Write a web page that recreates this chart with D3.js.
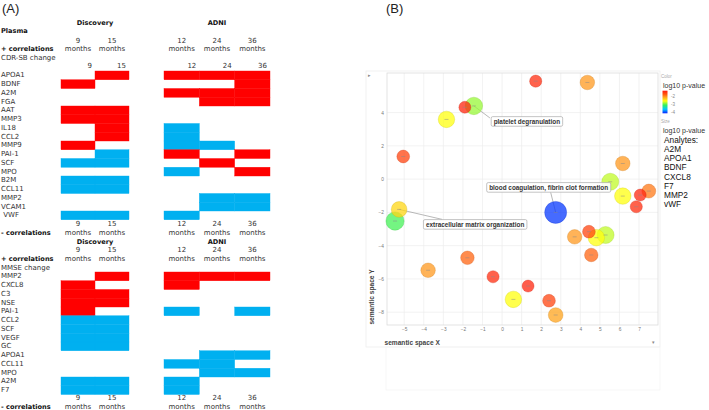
<!DOCTYPE html>
<html>
<head>
<meta charset="utf-8">
<script src="https://cdn.jsdelivr.net/npm/d3@7"></script>
<style>
  body { margin: 0; background: #fff; }
  svg { display: block; }
  .lab { font-family: "DejaVu Sans", Verdana, sans-serif; font-size: 7px; fill: #333; }
  .bold { font-weight: bold; fill: #111; font-size: 6.6px; }
  .sans { font-family: "Liberation Sans", Arial, sans-serif; }
</style>
</head>
<body>
<script>
// ---- panel A data ----
const discoveryMonths = ['9', '15'];
const adniMonths = ['12', '24', '36'];

// CDR-SB change: 1 = + correlation (red), -1 = - correlation (blue), 0 = none
// order: Discovery 9, 15 | ADNI 12, 24, 36
const cdrAnalytes = ['APOA1', 'BDNF', 'A2M', 'FGA', 'AAT', 'MMP3', 'IL18', 'CCL2', 'MMP9', 'PAI-1', 'SCF', 'MPO', 'B2M', 'CCL11', 'MMP2', 'VCAM1', ' VWF'];
const cdrValues = [
    [0, 1, 1, 1, 1],
    [1, 0, 0, 0, 1],
    [0, 0, 1, 1, 1],
    [0, 0, 0, 1, 1],
    [1, 1, 0, 0, 0],
    [1, 1, 0, 0, 0],
    [0, 1, -1, 0, 0],
    [0, 1, -1, 0, 0],
    [1, 0, -1, -1, 0],
    [0, -1, 1, 0, 1],
    [-1, -1, 0, 1, 0],
    [0, 0, -1, 0, 1],
    [-1, -1, 0, 0, 0],
    [-1, -1, 0, 0, 0],
    [0, 0, 0, -1, -1],
    [0, 0, 0, -1, -1],
    [-1, -1, -1, 0, 0]
];

// MMSE change
const mmseAnalytes = ['MMP2', 'CXCL8', 'C3', 'NSE', 'PAI-1', 'CCL2', 'SCF', 'VEGF', 'GC', 'APOA1', 'CCL11', 'MPO', 'A2M', 'F7'];
const mmseValues = [
    [0, 1, 1, 1, 1],
    [1, 0, 1, 0, 0],
    [1, 1, 0, 0, 0],
    [1, 1, 0, 0, 0],
    [1, 0, -1, 0, -1],
    [-1, -1, 0, 0, 0],
    [-1, -1, 0, 0, 0],
    [-1, -1, 0, 0, 0],
    [-1, -1, 0, 0, 0],
    [0, 0, 0, -1, -1],
    [0, 0, -1, -1, 0],
    [0, 0, 0, -1, -1],
    [-1, -1, -1, 0, 0],
    [-1, -1, -1, 0, 0]
];

// ---- panel B data (REVIGO semantic space) ----
const termX = [-5.05, -2.84, -1.90, -1.44, 1.72, 4.36, 6.17, 5.53, 6.17, 7.06, 7.50, 6.86, 2.74, 3.71, 4.44, 5.29, 4.82, 4.56, 1.33, 2.40, 2.74, -5.26, -5.47, -3.78, -1.77, -0.46, 0.58];
const termY = [1.36, 3.59, 4.32, 4.40, 5.89, 5.81, 0.94, -0.16, -1.02, -0.96, -0.72, -1.66, -2.00, -3.47, -3.16, -3.36, -3.52, -4.56, -6.43, -7.31, -8.17, -1.82, -2.52, -5.48, -4.73, -5.87, -7.23];
const termLogP = [-1.65, -2.6, -1.45, -2.85, -1.5, -2.1, -2.1, -2.75, -2.6, -1.45, -1.95, -1.5, -4.0, -2.1, -1.65, -2.75, -2.6, -1.85, -1.45, -1.65, -2.15, -2.4, -3.05, -2.1, -1.85, -1.5, -2.6];
const labelText = ['platelet degranulation', 'blood coagulation, fibrin clot formation', 'extracellular matrix organization'];
const labelTerm = [3, 12, 21];
const analytes = ['A2M', 'APOA1', 'BDNF', 'CXCL8', 'F7', 'MMP2', 'vWF'];
const xTicks = d3.range(-5, 8);
const yTicks = [-8, -6, -4, -2, 0, 2, 4];
const colorTicks = [-2, -3, -4];

const svg = d3.select('body').append('svg').attr('width', 709).attr('height', 410);

//常量
const RED = '#ff0000', BLUE = '#00b0f0';
const rowH = 8.75;

// ================= panel A =================
const A = svg.append('g');
A.append('text').attr('class', 'sans').attr('x', 2).attr('y', 13).attr('font-size', 13).attr('fill', '#222').text('(A)');

const xDisc = d3.scaleBand().domain(discoveryMonths).range([61, 129]);
const xAdni = d3.scaleBand().domain(adniMonths).range([164, 270]);
const cols = discoveryMonths.map(m => ({ m, x: xDisc(m), w: xDisc.bandwidth() }))
    .concat(adniMonths.map(m => ({ m, x: xAdni(m), w: xAdni.bandwidth() })));

function txt(g, x, y, s, cls, anchor) {
    return g.append('text').attr('class', 'lab ' + (cls || ''))
        .attr('x', x).attr('y', y).attr('dominant-baseline', 'central')
        .attr('text-anchor', anchor || 'start').style('white-space', 'pre').text(s);
}

function colHeader(g, yNum, yMonths) {
    cols.forEach(c => {
        txt(g, c.x + c.w / 2, yNum, c.m, '', 'middle').attr('fill', '#444');
        txt(g, c.x + c.w / 2, yMonths, 'months', '', 'middle').attr('fill', '#444');
    });
}

function section(g, rows, values, top) {
    const y = d3.scaleBand().domain(d3.range(rows.length)).range([top, top + rows.length * rowH]);
    rows.forEach((r, i) => txt(g, 1, y(i) + rowH / 2, r));
    const cells = [];
    values.forEach((row, i) => row.forEach((v, j) => { if (v !== 0) cells.push({ i, j, v }); }));
    g.selectAll(null).data(cells).join('rect')
        .attr('x', d => cols[d.j].x).attr('y', d => y(d.i))
        .attr('width', d => cols[d.j].w).attr('height', rowH)
        .attr('fill', d => d.v > 0 ? RED : BLUE)
        .attr('stroke', d => d.v > 0 ? RED : BLUE).attr('stroke-width', 0.4);
    return top + rows.length * rowH;
}

// CDR-SB block
let top1 = 71;
txt(A, xDisc.range()[0] + 34, 23, 'Discovery', 'bold', 'middle');
txt(A, 217, 23, 'ADNI', 'bold', 'middle');
txt(A, 1, 31, 'Plasma', 'bold');
colHeader(A, 41, 49);
txt(A, 1, 49, '+ correlations', 'bold');
txt(A, 1, 58, 'CDR-SB change');
cols.forEach(c => txt(A, c.x + c.w - 3, 66, c.m, '', 'end').attr('fill', '#444'));
let end1 = section(A, cdrAnalytes, cdrValues, top1);
colHeader(A, end1 + 3.8, end1 + 12.8);
txt(A, 1, end1 + 12.8, '- correlations', 'bold');

// MMSE block
let top2 = 272;
txt(A, 95, 241.5, 'Discovery', 'bold', 'middle');
txt(A, 217, 241.5, 'ADNI', 'bold', 'middle');
colHeader(A, 250, 259);
txt(A, 1, 259, '+ correlations', 'bold');
txt(A, 1, 268, 'MMSE change');
let end2 = section(A, mmseAnalytes, mmseValues, top2);
colHeader(A, end2 + 3.6, end2 + 12.6);
txt(A, 1, end2 + 12.6, '- correlations', 'bold');

// ================= panel B =================
const B = svg.append('g').attr('class', 'sans');
B.append('text').attr('x', 386).attr('y', 13).attr('font-size', 13).attr('fill', '#222').text('(B)');

const px0 = 387, px1 = 658, py0 = 73, py1 = 325;
const x = d3.scaleLinear().domain([-5.88, 7.97]).range([px0, px1]);
const y = d3.scaleLinear().domain([-8.77, 6.38]).range([py1, py0]);

// faint frames
B.append('rect').attr('x', 366).attr('y', 71).attr('width', 294).attr('height', 276)
    .attr('fill', 'none').attr('stroke', '#eeeeee').attr('stroke-width', 0.8);
B.append('rect').attr('x', 386).attr('y', 347).attr('width', 274).attr('height', 43)
    .attr('fill', 'none').attr('stroke', '#f4f4f4').attr('stroke-width', 0.8);

// grid
B.append('g').selectAll('line').data(xTicks).join('line')
    .attr('x1', d => x(d)).attr('x2', d => x(d)).attr('y1', py0).attr('y2', py1)
    .attr('stroke', '#ececec').attr('stroke-width', 0.7);
B.append('g').selectAll('line').data(yTicks).join('line')
    .attr('x1', px0).attr('x2', px1).attr('y1', d => y(d)).attr('y2', d => y(d))
    .attr('stroke', '#ececec').attr('stroke-width', 0.7);
B.append('rect').attr('x', px0).attr('y', py0).attr('width', px1 - px0).attr('height', py1 - py0)
    .attr('fill', 'none').attr('stroke', '#dcdcdc').attr('stroke-width', 0.8);

// axes
const xAxis = B.append('g').attr('transform', `translate(0,${py1})`)
    .call(d3.axisBottom(x).tickValues(xTicks).tickSize(0).tickPadding(2.5));
const yAxis = B.append('g').attr('transform', `translate(${px0},0)`)
    .call(d3.axisLeft(y).tickValues(yTicks).tickSize(0).tickPadding(3));
[xAxis, yAxis].forEach(a => {
    a.select('.domain').remove();
    a.selectAll('text').attr('font-size', 4.8).attr('fill', '#777').attr('font-family', '"Liberation Sans", Arial, sans-serif');
});
B.append('text').attr('x', 384.5).attr('y', 344.5).attr('font-size', 6.6).attr('fill', '#444').attr('font-weight', 'bold')
    .text('semantic space X');
B.append('text').attr('transform', 'translate(373.5,297) rotate(-90)').attr('text-anchor', 'middle')
    .attr('font-size', 6.6).attr('fill', '#444').attr('font-weight', 'bold').text('semantic space Y');
B.append('text').attr('x', 368).attr('y', 77).attr('font-size', 5).attr('fill', '#888').text('\u25B8');
B.append('text').attr('x', 652).attr('y', 344).attr('font-size', 5).attr('fill', '#888').text('\u25BE');

// colour + size by log10 p-value
const color = d3.scaleLinear()
    .domain([-4.08, -3.6, -3.1, -2.6, -2.1, -1.8, -1.36])
    .range(['#0a1eff', '#00c8ff', '#30f060', '#ffff10', '#ff9a20', '#ff5a10', '#ff1a10']);
const radius = d3.scaleLinear().domain([-1.45, -4]).range([6, 11]);

const terms = termX.map((d, i) => ({ i, x: termX[i], y: termY[i], p: termLogP[i] }))
    .sort((a, b) => a.p - b.p);

// leader lines + labels (behind bubbles)
const boxOffset = [[53, 15.5], [-7, -25], [76, 15]];
const lineEnd = [[-37, -3.5], [2, 5], [-33, -5]];
labelText.forEach((s, k) => {
    const t = labelTerm[k];
    const cx = x(termX[t]) + boxOffset[k][0], cy = y(termY[t]) + boxOffset[k][1];
    B.append('line').attr('x1', x(termX[t])).attr('y1', y(termY[t]))
        .attr('x2', cx + lineEnd[k][0]).attr('y2', cy + lineEnd[k][1])
        .attr('stroke', '#999').attr('stroke-width', 0.7);
});

B.append('g').selectAll('circle').data(terms).join('circle')
    .attr('cx', d => x(d.x)).attr('cy', d => y(d.y)).attr('r', d => radius(d.p))
    .attr('fill', d => color(d.p)).attr('fill-opacity', 0.75)
    .attr('stroke', d => d3.color(color(d.p)).darker(0.6)).attr('stroke-opacity', 0.5).attr('stroke-width', 0.6);
B.append('g').selectAll('line').data(terms).join('line')
    .attr('x1', d => x(d.x) - 2).attr('x2', d => x(d.x) + 2)
    .attr('y1', d => y(d.y)).attr('y2', d => y(d.y))
    .attr('stroke', '#888').attr('stroke-width', 0.5);

labelText.forEach((s, k) => {
    const t = labelTerm[k];
    const cx = x(termX[t]) + boxOffset[k][0], cy = y(termY[t]) + boxOffset[k][1];
    const g = B.append('g');
    const r = g.append('rect');
    const tx = g.append('text').attr('x', cx).attr('y', cy).attr('text-anchor', 'middle')
        .attr('dominant-baseline', 'central').attr('font-size', 6.4).attr('font-weight', 'bold')
        .attr('fill', '#333').text(s);
    const bb = tx.node().getBBox();
    r.attr('x', bb.x - 2.5).attr('y', cy - 4.8).attr('width', bb.width + 5).attr('height', 9.6)
        .attr('rx', 1.5).attr('fill', '#fff').attr('fill-opacity', 0.9)
        .attr('stroke', '#aaa').attr('stroke-width', 0.7);
});

// legend
const L = B.append('g');
L.append('text').attr('x', 661).attr('y', 77.5).attr('font-size', 4.5).attr('fill', '#aaa').text('Color');
L.append('text').attr('x', 663).attr('y', 87.5).attr('font-size', 7).attr('fill', '#333').text('log10 p-value');
const cbar = d3.scaleLinear().domain([-4.08, -1.36]).range([113.3, 90.7]);
const grad = svg.append('defs').append('linearGradient').attr('id', 'cb')
    .attr('x1', 0).attr('x2', 0).attr('y1', 1).attr('y2', 0);
color.domain().forEach(v => grad.append('stop')
    .attr('offset', (v + 4.08) / 2.72).attr('stop-color', color(v)));
L.append('rect').attr('x', 662.5).attr('y', cbar(-1.36)).attr('width', 5).attr('height', cbar(-4.08) - cbar(-1.36))
    .attr('fill', 'url(#cb)');
L.selectAll(null).data(colorTicks).join('text')
    .attr('x', 671).attr('y', d => cbar(d)).attr('dominant-baseline', 'central')
    .attr('font-size', 4.5).attr('fill', '#888').text(d => d);
L.append('text').attr('x', 661).attr('y', 122.5).attr('font-size', 4.5).attr('fill', '#aaa').text('Size');
L.append('text').attr('x', 663).attr('y', 132.5).attr('font-size', 7).attr('fill', '#333').text('log10 p-value');
L.append('text').attr('x', 664).attr('y', 143).attr('font-size', 8.3).attr('fill', '#111').text('Analytes:');
L.selectAll(null).data(analytes).join('text')
    .attr('x', 664).attr('y', (d, i) => 152.2 + i * 9.1).attr('font-size', 8.3).attr('fill', '#111').text(d => d);
</script>
</body>
</html>
